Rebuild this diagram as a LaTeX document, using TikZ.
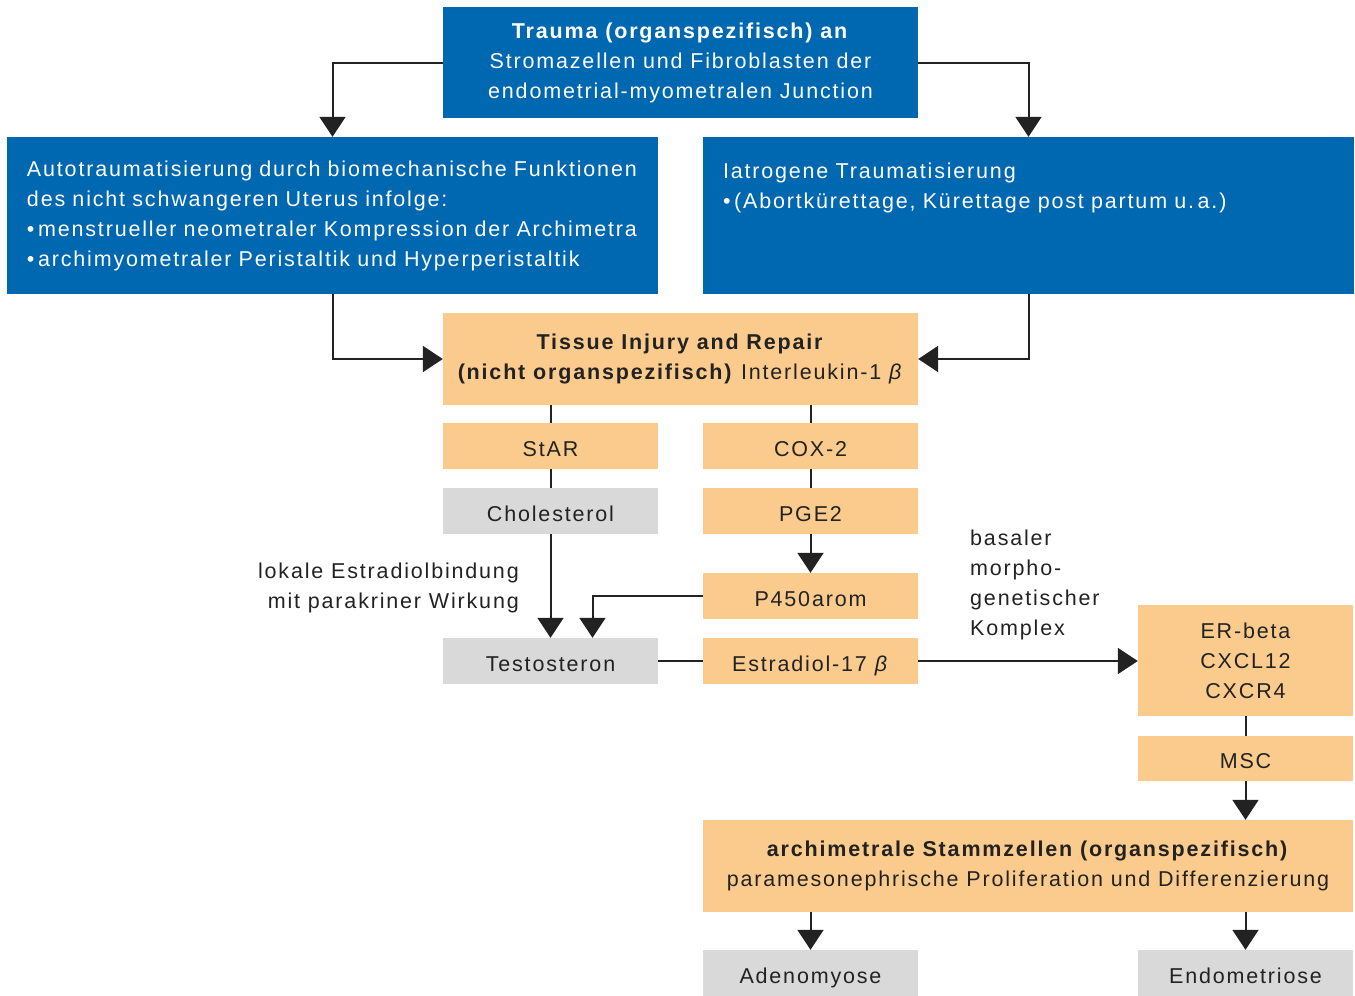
\documentclass[tikz,border=0pt]{standalone}
\usepackage{fontspec}
\setmainfont{Liberation Sans}[LetterSpace=8.5]
\usetikzlibrary{arrows.meta,calc}
\definecolor{trblue}{HTML}{0067B1}
\definecolor{tiorange}{HTML}{FBCB8E}
\definecolor{hgray}{HTML}{D9D9D9}
\definecolor{ink}{HTML}{222222}
\tikzset{
  bigbox/.style={inner sep=0pt,align=center,text=ink,font=\fontsize{21.5}{30}\selectfont},
  box/.style={bigbox,minimum width=215pt,minimum height=46pt,text height=25pt,text depth=5pt},
  bluebox/.style={bigbox,fill=trblue,text=white},
  orbox/.style={box,fill=tiorange},
  orbig/.style={bigbox,fill=tiorange},
  grbox/.style={box,fill=hgray},
  lnk/.style={draw=ink,line width=2pt},
  arr/.style={lnk,-{Triangle[width=26pt,length=20pt]}},
  note/.style={text=ink,font=\fontsize{21.5}{30}\selectfont,inner sep=0pt}
}
\begin{document}
\begin{tikzpicture}[x=1pt,y=-1pt]
\path[use as bounding box] (0,0) rectangle (1355,996);
\node[bluebox,minimum width=475pt,minimum height=111pt] (trauma) at (680.5,62.5) {\textbf{Trauma (organspezifisch) an}\\Stromazellen und Fibroblasten der\\endometrial-myometralen Junction};
\node[bluebox,minimum width=651pt,minimum height=157pt,text width=611pt,align=left] (auto) at (332.5,215.5) {Autotraumatisierung durch biomechanische Funktionen\\des nicht schwangeren Uterus infolge:\\•\,menstrueller neometraler Kompression der Archimetra\\•\,archimyometraler Peristaltik und Hyperperistaltik};
\node[bluebox,minimum width=651pt,minimum height=157pt,text width=611pt,align=left] (iat) at (1028.5,215.5) {Iatrogene Traumatisierung\\•\,(Abortkürettage, Kürettage post partum u.\,a.)\\\mbox{}\\\mbox{}};
\node[orbig,minimum width=475pt,minimum height=92pt] (tissue) at (680.5,359) {\textbf{Tissue Injury and Repair}\\\textbf{(nicht organspezifisch)} Interleukin-1 \textit{β}};
\node[orbox] (star) at (550.5,446) {StAR};
\node[orbox] (cox) at (810.5,446) {COX-2};
\node[grbox] (chol) at (550.5,511) {Cholesterol};
\node[orbox] (pge) at (810.5,511) {PGE2};
\node[orbox] (p450) at (810.5,596) {P450arom};
\node[grbox] (testo) at (550.5,661) {Testosteron};
\node[orbox] (estr) at (810.5,661) {Estradiol-17 \textit{β}};
\node[orbig,minimum width=215pt,minimum height=111pt] (erb) at (1245.5,660.5) {ER-beta\\CXCL12\\CXCR4};
\node[orbox,minimum height=45pt] (msc) at (1245.5,758.5) {MSC};
\node[orbig,minimum width=650pt,minimum height=92pt] (arch) at (1028,866) {\textbf{archimetrale Stammzellen (organspezifisch)}\\paramesonephrische Proliferation und Differenzierung};
\node[grbox] (adeno) at (810.5,973) {Adenomyose};
\node[grbox] (endo) at (1245.5,973) {Endometriose};
\node[note,align=right,anchor=east] (lokal) at (519,588) {lokale Estradiolbindung\\mit parakriner Wirkung};
\node[note,align=left,anchor=west] (komplex) at (970,585) {basaler\\morpho-\\genetischer\\Komplex};
\coordinate (tin) at ($(testo.north)+(42,0)$);
\draw[arr] (trauma.west) -| (auto.north);
\draw[arr] (trauma.east) -| (iat.north);
\draw[arr] (auto.south) |- (tissue.west);
\draw[arr] (iat.south) |- (tissue.east);
\draw[lnk] (tissue.south -| star.north) -- (star.north);
\draw[lnk] (star) -- (chol);
\draw[arr] (chol) -- (testo);
\draw[lnk] (tissue.south -| cox.north) -- (cox.north);
\draw[lnk] (cox) -- (pge);
\draw[arr] (pge) -- (p450);
\draw[arr] (p450.west) -| (tin);
\draw[lnk] (testo) -- (estr);
\draw[arr] (estr.east) -- (estr.east -| erb.west);
\draw[lnk] (erb) -- (msc);
\draw[arr] (msc.south) -- (msc.south |- arch.north);
\draw[arr] (arch.south -| adeno.north) -- (adeno.north);
\draw[arr] (arch.south -| endo.north) -- (endo.north);
\end{tikzpicture}
\end{document}
